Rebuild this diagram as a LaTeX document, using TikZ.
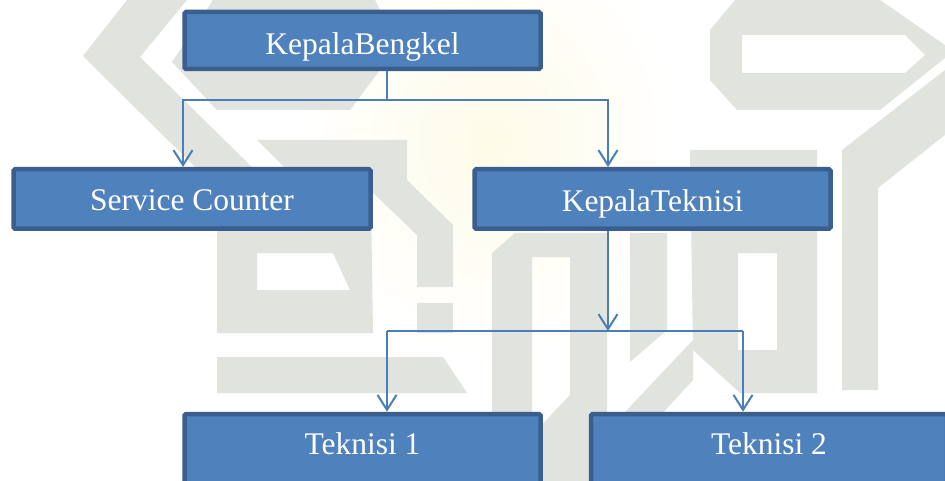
\documentclass[tikz,border=0pt]{standalone}
\usepackage{fontspec}
\setmainfont{Liberation Serif}
\usetikzlibrary{arrows.meta}
\definecolor{boxfill}{HTML}{4F81BD}
\definecolor{boxline}{HTML}{3A5F8E}
\definecolor{wire}{HTML}{4A7EBB}
\definecolor{wmgrey}{RGB}{225,227,222}
\definecolor{glow}{RGB}{254,251,232}
\begin{document}
\begin{tikzpicture}[x=1pt,y=-1pt,
  box/.style={draw=boxline, fill=boxfill, line width=4.5pt, rounded corners=1.5pt,
    minimum width=356pt, minimum height=57pt, inner sep=0pt, text=white,
    font=\fontsize{31.5}{36}\selectfont, text depth=0pt},
  conn/.style={draw=wire, line width=2pt},
  arr/.style={-{Straight Barb[length=15pt,width=19pt]}},
  wm/.style={fill=wmgrey, draw=none}]
\clip (0,0) rectangle (945,481);
\fill[white] (0,0) rectangle (945,481);

% faint background emblem
\shade[inner color=glow, outer color=white] (490,140) ellipse [x radius=190, y radius=220];
\fill[wm] (127,0) -- (187,0) -- (140,57) -- (257,172) -- (200,172) -- (83,56) -- cycle;
\fill[wm] (172,62) -- (213,0) -- (375,0) -- (395,40) -- (380,70) -- (350,110) -- (217,110) -- cycle;
\fill[wm, even odd rule] (257,140) -- (370,140) -- (373,333) -- (217,333) -- (217,200) -- (300,183) -- cycle
  (257,253) -- (333,253) -- (350,290) -- (257,290) -- cycle;
\fill[wm] (370,140) -- (407,140) -- (407,180) -- (453,225) -- (453,287) -- (417,287) -- (417,235) -- (370,190) -- cycle;
\fill[wm] (417,303) rectangle (453,333);
\fill[wm] (217,357) -- (443,357) -- (467,393) -- (217,393) -- cycle;
\fill[wm, even odd rule] (492,481) -- (492,253) -- (515,233) -- (607,233) -- (607,481) -- cycle
  (532,257) -- (570,257) -- (570,395) -- (532,435) -- cycle;
\fill[wm] (630,233) -- (667,233) -- (667,330) -- (630,362) -- cycle;
\fill[wm, even odd rule] (690,150) -- (817,150) -- (817,393) -- (740,393) -- (693,350) -- cycle
  (738,253) -- (777,253) -- (777,350) -- (738,350) -- cycle;
\fill[wm] (560,481) -- (600,481) -- (693,380) -- (693,340) -- cycle;
\fill[wm] (842,150) -- (945,70) -- (945,135) -- (878,188) -- (878,390) -- (842,390) -- cycle;
\fill[wm, even odd rule] (735,0) -- (880,0) -- (945,45) -- (945,58) -- (880,110) -- (737,110) -- (710,80) -- (710,30) -- cycle
  (742,35) -- (905,35) -- (925,55) -- (905,73) -- (742,73) -- cycle;

% boxes
\node[box, text height=29pt] (kb) at (362.5,40.5) {KepalaBengkel};
\node[box, text height=24pt, minimum width=357pt, minimum height=59.5pt] (sc) at (192,199) {Service Counter};
\node[box, text height=26pt, minimum height=59.5pt] (kt) at (652.5,199) {KepalaTeknisi};
\node[box, text height=6pt, minimum height=74pt] (t1) at (362.5,451) {Teknisi 1};
\node[box, text height=6pt, minimum height=74pt] (t2) at (769,451) {Teknisi 2};

% junction points of the connectors
\coordinate (j1) at (387,100);
\coordinate (b1) at (183,100);
\coordinate (b2) at (608,100);
\coordinate (j2) at (608,331);
\coordinate (c1) at (387,331);
\coordinate (c2) at (743,331);

% connectors
\draw[conn] (kb.south -| j1) -- (j1);
\draw[conn, arr] (j1) -| (sc.north -| b1);
\draw[conn, arr] (j1) -| (kt.north -| b2);
\draw[conn, arr] (kt.south -| j2) -- (j2);
\draw[conn] (c1) -- (c2);
\draw[conn, arr] (c1) -- (t1.north -| c1);
\draw[conn, arr] (c2) -- (t2.north -| c2);
\end{tikzpicture}
\end{document}
